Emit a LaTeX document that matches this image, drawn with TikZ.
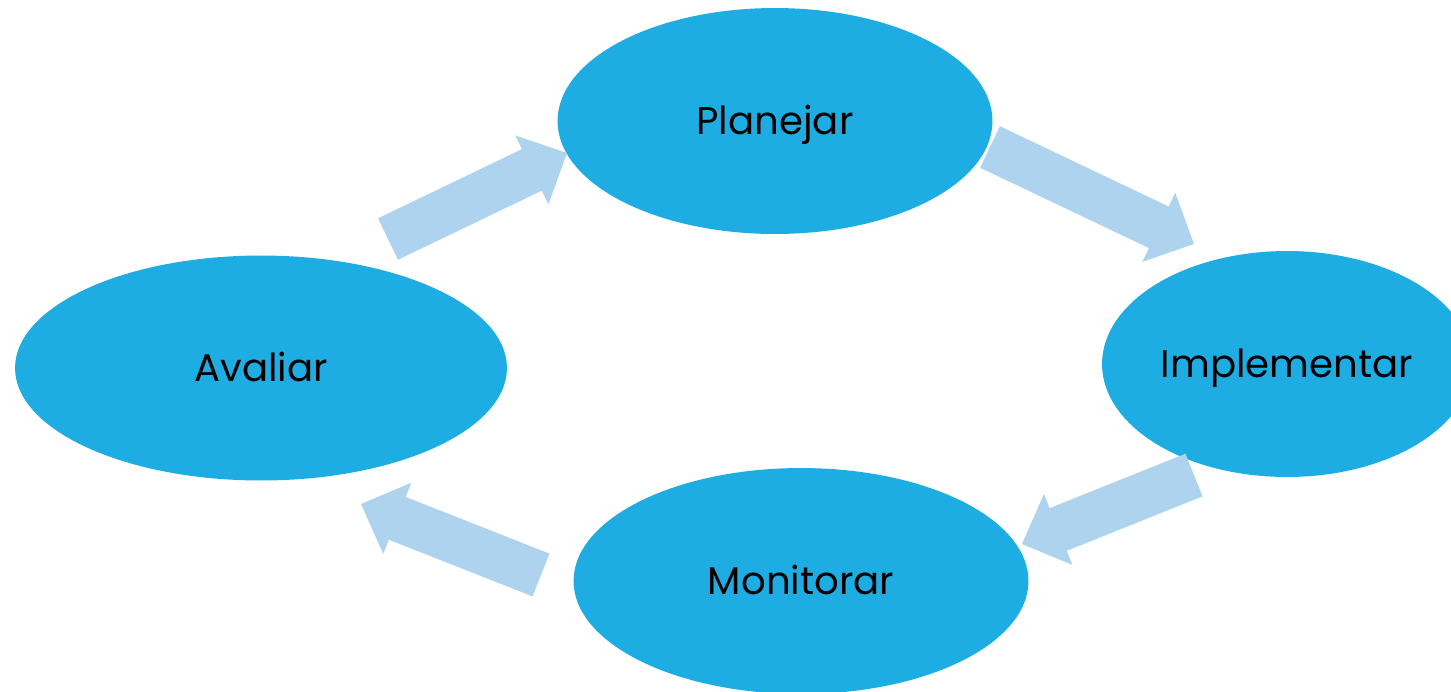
\documentclass[tikz,border=0pt]{standalone}
\usepackage{fontspec}
\setmainfont{Poppins}
\usepackage{xcolor}
\usepackage{tikz}
\usetikzlibrary{shapes.geometric,calc}

\definecolor{stepblue}{HTML}{1EADE3}
\definecolor{arrowblue}{HTML}{ADD3EF}

\tikzset{
    stage/.style={ellipse, fill=stepblue, draw=none, inner sep=0pt,
        text height=0.54cm, text depth=0pt,
        font=\fontsize{22}{26}\selectfont},
    fatarrow/.style={fill=arrowblue, draw=none}
}

% block arrow from #1 to #2 (shaft 0.92cm, head 1.53cm wide, 0.78cm long)
\newcommand\blockarrow[2]{%
    \fill[fatarrow] let \p1=($(#2)-(#1)$), \n1={atan2(\y1,\x1)} in
        ($(#1)+(\n1+90:0.46cm)$)
        -- ($(#2)+(\n1+180:0.78cm)+(\n1+90:0.46cm)$)
        -- ($(#2)+(\n1+180:0.78cm)+(\n1+90:0.765cm)$)
        -- (#2)
        -- ($(#2)+(\n1+180:0.78cm)+(\n1-90:0.765cm)$)
        -- ($(#2)+(\n1+180:0.78cm)+(\n1-90:0.46cm)$)
        -- ($(#1)+(\n1-90:0.46cm)$) -- cycle;}

\begin{document}
\begin{tikzpicture}[x=0.02cm,y=-0.02cm]
                \useasboundingbox (0,0) rectangle (1451,691);
                \clip (0,0) rectangle (1451,691);

                % the four stages
                \node[stage, minimum width=8.7cm, minimum height=4.52cm] (planejar) at (775,121) {Planejar};
                \node[stage, minimum width=7.4cm, minimum height=4.52cm] (implementar) at (1287,364) {Implementar};
                \node[stage, minimum width=9.1cm, minimum height=4.52cm] (monitorar) at (801,581) {Monitorar};
                \node[stage, minimum width=9.84cm, minimum height=4.5cm] (avaliar) at (261,368) {Avaliar};

                % arrow ends
                \coordinate (ava-out) at (388,239);
                \coordinate (pla-in) at (567,153);
                \coordinate (pla-out) at (990,147);
                \coordinate (imp-in) at (1194,244);
                \coordinate (imp-out) at (1194,475);
                \coordinate (mon-in) at (1022,544);
                \coordinate (mon-out) at (541,575);
                \coordinate (ava-in) at (361,504);

                \blockarrow{ava-out}{pla-in}
                \blockarrow{pla-out}{imp-in}
                \blockarrow{imp-out}{mon-in}
                \blockarrow{mon-out}{ava-in}

\end{tikzpicture}
\end{document}
